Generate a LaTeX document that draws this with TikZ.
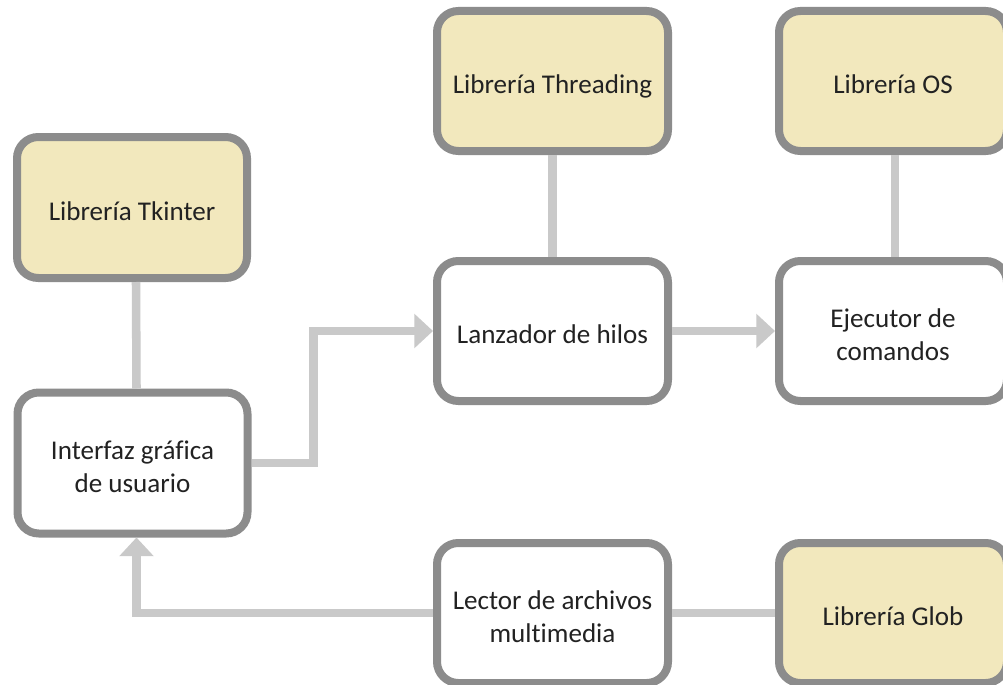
\documentclass[tikz,border=0pt]{standalone}
\usepackage{fontspec}
\setmainfont[Ligatures=NoCommon]{Carlito}
\usetikzlibrary{arrows.meta,calc}
\definecolor{boxgray}{HTML}{8C8C8C}
\definecolor{linegray}{HTML}{C9C9C9}
\definecolor{libfill}{HTML}{F2E8BD}
\definecolor{txt}{HTML}{222222}
\newcommand{\tallstrut}{\rule{0pt}{19pt}}
\begin{document}
\begin{tikzpicture}[x=0.75pt,y=-0.75pt,
  box/.style={draw=boxgray, line width=6pt, rounded corners=16pt, fill=white,
    align=center, inner sep=0pt, text=txt,
    font=\fontsize{20.3}{24.75}\selectfont},
  oneline/.style={execute at begin node={\rule{0pt}{22.5pt}},
    execute at end node={\vphantom{g}}},
  lib/.style={box, oneline, fill=libfill},
  leftcol/.style={minimum width=172.5pt, minimum height=105.75pt},
  midcol/.style={minimum width=173.25pt, minimum height=105pt},
  rightcol/.style={minimum width=171pt, minimum height=105pt},
  conn/.style={draw=linegray, line width=6.4pt},
  arr/.style={conn, -{Triangle[length=14pt,width=25pt]}}]
\useasboundingbox (0,0) rectangle (1003,685);
\fill[white] (0,0) rectangle (1003,685);

\node[lib, leftcol] (tk) at (132,207.5) {Librería Tkinter};
\node[box, leftcol] (gui) at (132.5,463) {\tallstrut Interfaz gráfica\\de usuario};
\node[lib, midcol] (thr) at (552.5,81) {Librería Threading};
\node[box, oneline, midcol] (lan) at (552.5,331) {Lanzador de hilos};
\node[box, midcol] (lec) at (552.5,613) {\tallstrut Lector de archivos\\multimedia};
\node[lib, rightcol] (os) at (893,81) {Librería OS};
\node[box, rightcol] (eje) at (893,331) {\tallstrut Ejecutor de\\comandos};
\node[lib, rightcol] (glob) at (893,613) {Librería Glob};

\draw[conn] ($(tk.south)+(4,0)$) -- ($(gui.north)+(4,0)$);
\draw[conn] (thr.south) -- (lan.north);
\draw[conn] ($(os.south)+(2,0)$) -- ($(eje.north)+(2,0)$);
\draw[arr] (gui.east) -- ++(62,0) |- (lan.west);
\draw[arr] (lan.east) -- (eje.west);
\draw[conn] (lec.east) -- (glob.west);
\draw[arr] (lec.west) -| ($(gui.south)+(4,0)$);
\end{tikzpicture}
\end{document}
